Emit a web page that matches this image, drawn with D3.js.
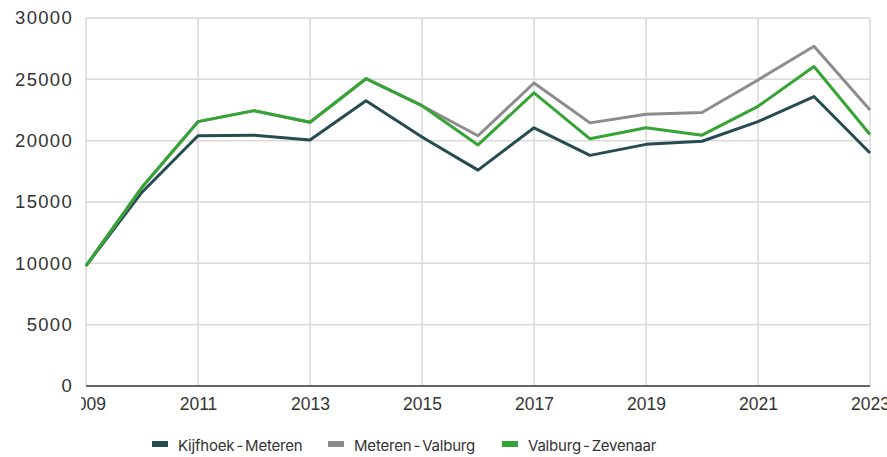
<!DOCTYPE html>
<meta charset="utf-8">
<style>
body { margin: 0; background: #fff; }
svg { display: block; font-family: Inter, "Open Sans", sans-serif; }
.grid line { stroke: #d9d9d9; stroke-width: 1.5px; }
.tick text { fill: #333; }
.yaxis .tick text { font-size: 18.5px; letter-spacing: 1.3px; }
.xaxis .tick text { font-family: "Liberation Sans", Arial, sans-serif; font-size: 17.5px; }
.line { fill: none; stroke-width: 3px; stroke-linejoin: round; }
.legend text { fill: #333; font-size: 15px; letter-spacing: -0.2px; word-spacing: -2px; }
</style>
<svg width="887" height="457"></svg>
<script src="https://d3js.org/d3.v7.min.js"></script>
<script>

var years = [2009, 2010, 2011, 2012, 2013, 2014, 2015, 2016, 2017, 2018, 2019, 2020, 2021, 2022, 2023];
var kijfhoekMeteren = [9800, 15800, 20400, 20450, 20050, 23250, 20300, 17600, 21050, 18800, 19700, 19950, 21550, 23600, 19000];
var meterenValburg = [9800, 16200, 21550, 22450, 21500, 25050, 22850, 20400, 24700, 21450, 22150, 22300, 24950, 27700, 22500];
var valburgZevenaar = [9800, 16200, 21550, 22450, 21500, 25050, 22850, 19650, 23900, 20150, 21050, 20450, 22800, 26050, 20500];
var xTicks = [2009, 2011, 2013, 2015, 2017, 2019, 2021, 2023];
var yTicks = [0, 5000, 10000, 15000, 20000, 25000, 30000];

var series = [
  {name: "Kijfhoek - Meteren", values: kijfhoekMeteren, color: "#264c52"},
  {name: "Meteren - Valburg", values: meterenValburg, color: "#8c8c8c"},
  {name: "Valburg - Zevenaar", values: valburgZevenaar, color: "#34a534"}
];

var svg = d3.select("svg"),
    margin = {top: 18, left: 86, right: 17, bottom: 71},
    width = +svg.attr("width") - margin.left - margin.right,
    height = +svg.attr("height") - margin.top - margin.bottom;

var x = d3.scaleLinear().domain([2009, 2023]).range([0, width]),
    y = d3.scaleLinear().domain([0, 30000]).range([height, 0]);

var g = svg.append("g")
    .attr("transform", "translate(" + margin.left + "," + margin.top + ")");

// gridlines
g.append("g").attr("class", "grid")
  .selectAll("line").data(yTicks.filter(function(d){ return d > 0; }))
  .enter().append("line")
    .attr("x1", 0).attr("x2", width)
    .attr("y1", function(d){ return y(d); }).attr("y2", function(d){ return y(d); });

g.append("g").attr("class", "grid")
  .selectAll("line").data(xTicks)
  .enter().append("line")
    .attr("x1", function(d){ return x(d); }).attr("x2", function(d){ return x(d); })
    .attr("y1", 0).attr("y2", height);

// y axis labels
var yAxis = g.append("g").attr("class", "yaxis")
    .call(d3.axisLeft(y).tickValues(yTicks).tickSize(0).tickPadding(13).tickFormat(d3.format("d")));
yAxis.select(".domain").remove();

// x axis (labels clipped at the left like the original)
svg.append("defs").append("clipPath").attr("id", "xclip")
  .append("rect").attr("x", -5).attr("y", -5).attr("width", width + 40).attr("height", 60);

var xAxis = g.append("g").attr("class", "xaxis")
    .attr("transform", "translate(0," + height + ")")
    .attr("clip-path", "url(#xclip)")
    .call(d3.axisBottom(x).tickValues(xTicks).tickSize(0).tickPadding(12).tickFormat(d3.format("d")));
xAxis.select(".domain").remove();

g.append("line")
    .attr("x1", 0).attr("x2", width)
    .attr("y1", height).attr("y2", height)
    .attr("stroke", "#333").attr("stroke-width", 1.5);

// lines
var line = d3.line()
    .x(function(d, i){ return x(years[i]); })
    .y(function(d){ return y(d); });

g.selectAll(".line").data(series)
  .enter().append("path")
    .attr("class", "line")
    .attr("stroke", function(d){ return d.color; })
    .attr("d", function(d){ return line(d.values); });

// legend
var legendX = [152, 328, 502];
var legend = svg.append("g").attr("class", "legend")
  .selectAll("g").data(series).enter().append("g")
    .attr("transform", function(d, i){ return "translate(" + legendX[i] + ",444)"; });

legend.append("rect")
    .attr("x", 0).attr("y", -3).attr("width", 16).attr("height", 6)
    .attr("fill", function(d){ return d.color; });

legend.append("text")
    .attr("x", 26).attr("y", 6.5)
    .text(function(d){ return d.name; });

</script>
